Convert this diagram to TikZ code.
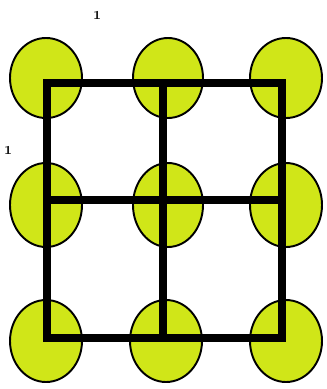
\documentclass[tikz,border=0pt]{standalone}
\usetikzlibrary{calc}

\definecolor{pea}{RGB}{208,230,24}

\begin{document}
\begin{tikzpicture}[x=0.02cm, y=-0.02cm,
    ball/.style={fill=pea, draw=black, line width=1.1pt},
    grid/.style={line width=4pt, line join=miter, line cap=rect}]

    \useasboundingbox (0, 0) rectangle (327, 389);

    \coordinate (B11) at (46, 78);
    \coordinate (B12) at (168, 78);
    \coordinate (B13) at (286, 78);
    \coordinate (B21) at (46, 205);
    \coordinate (B22) at (168, 205);
    \coordinate (B23) at (286, 205);
    \coordinate (B31) at (46, 341);
    \coordinate (B32) at (166, 341);
    \coordinate (B33) at (286, 341);

    \coordinate (G11) at (47, 83);
    \coordinate (G12) at (163, 83);
    \coordinate (G13) at (282, 83);
    \coordinate (G21) at (47, 200);
    \coordinate (G22) at (163, 200);
    \coordinate (G23) at (282, 200);
    \coordinate (G31) at (47, 338);
    \coordinate (G32) at (163, 338);
    \coordinate (G33) at (282, 338);

    \draw[ball] (B11) ellipse (36 and 40);
    \draw[ball] (B12) ellipse (35 and 40);
    \draw[ball] (B13) ellipse (36 and 40);
    \draw[ball] (B21) ellipse (36 and 42);
    \draw[ball] (B22) ellipse (35 and 42);
    \draw[ball] (B23) ellipse (36 and 42);
    \draw[ball] (B31) ellipse (36 and 41);
    \draw[ball] (B32) ellipse (36 and 41);
    \draw[ball] (B33) ellipse (36 and 41);

    \draw[grid] (G11) -- (G13) -- (G33) -- (G31) -- cycle;
    \draw[grid] (G21) -- (G23);
    \draw[grid] (G12) -- (G32);

    \node[font=\scriptsize\bfseries] (top) at (97, 15) {1};
    \node[font=\scriptsize\bfseries] (left) at (8, 150) {1};

\end{tikzpicture}
\end{document}
